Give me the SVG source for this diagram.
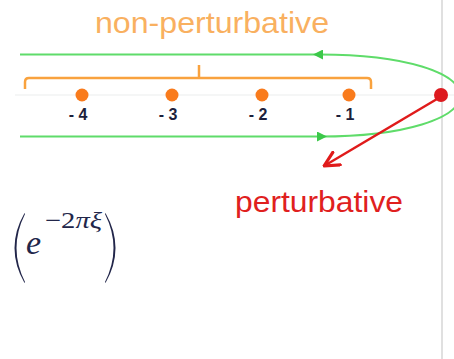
<svg xmlns="http://www.w3.org/2000/svg" width="454" height="359" viewBox="0 0 454 359">
<style>
.lbl{font-family:"Liberation Sans",Arial,sans-serif;font-weight:bold;font-size:16px;fill:#1c1f3c;text-anchor:end}
.od{fill:#f97b1c}
.g{fill:none;stroke:#5fdc6a;stroke-width:2}
.math{font-family:"Liberation Serif","Times New Roman",serif;fill:#22264a}
</style>
<defs>
<marker id="ga" viewBox="0 0 10 10" refX="5" refY="5" markerWidth="5" markerHeight="5" orient="auto" markerUnits="strokeWidth">
<path d="M0,0 L10,5 L0,10 z" fill="#3cc84a"/>
</marker>
<marker id="ra" viewBox="0 0 12 12" refX="11" refY="6" markerWidth="7" markerHeight="7" orient="auto" markerUnits="strokeWidth">
<path d="M1,1 L11,6 L1,11" fill="none" stroke="#e01b1b" stroke-width="2.2" stroke-linecap="round" stroke-linejoin="round"/>
</marker>
</defs>
<rect width="454" height="359" fill="#ffffff"/>
<line x1="442" y1="0" x2="442" y2="359" stroke="#d6d6d6" stroke-width="1.5"/>
<line x1="15" y1="95" x2="454" y2="95" stroke="#eceeee" stroke-width="1.2"/>
<g id="connectors">
<path class="g" d="M320,54.5 L20,54.5"/>
<path class="g" d="M460,95.5 C460,73 405,54.5 320,54.5"/>
<path class="g" d="M323,54.5 L318,54.5" marker-end="url(#ga)"/>
<path class="g" d="M20,136.5 L320,136.5 C405,136.5 460,118 460,95.5"/>
<path class="g" d="M317,136.5 L322,136.5" marker-end="url(#ga)"/>
<path d="M437,99 L324,166" fill="none" stroke="#e01b1b" stroke-width="2.5" marker-end="url(#ra)"/>
</g>
<g id="bracket">
<path d="M25,89 L25,82 Q25,78 29,78 L367,78 Q371,78 371,82 L371,89 M199,78 L199,65" fill="none" stroke="#f9a23e" stroke-width="2.5"/>
</g>
<g id="non-perturbative-label">
<text x="95" y="33" font-family="Liberation Sans,Arial,sans-serif" font-size="30" fill="#f9b060" textLength="234" lengthAdjust="spacingAndGlyphs">non-perturbative</text>
</g>
<g id="n4"><circle class="od" cx="82" cy="95" r="6.5"/><text class="lbl" x="87.5" y="120">- 4</text></g>
<g id="n3"><circle class="od" cx="172" cy="95" r="6.5"/><text class="lbl" x="177.5" y="120">- 3</text></g>
<g id="n2"><circle class="od" cx="262" cy="95" r="6.5"/><text class="lbl" x="267.5" y="120">- 2</text></g>
<g id="n1"><circle class="od" cx="349" cy="95" r="6.5"/><text class="lbl" x="354.5" y="120">- 1</text></g>
<g id="p0"><circle cx="441" cy="95" r="7" fill="#dd1a1f"/></g>
<g id="perturbative-label">
<text x="235" y="212" font-family="Liberation Sans,Arial,sans-serif" font-size="29" fill="#e0201e" textLength="168" lengthAdjust="spacingAndGlyphs">perturbative</text>
</g>
<g id="formula">
<path d="M25,214 Q8,248 25,282 L24.5,283 Q4.5,248 24.5,213 Z" fill="#22264a"/>
<path d="M105,214 Q122,248 105,282 L105.5,283 Q125.5,248 105.5,213 Z" fill="#22264a"/>
<text class="math" x="26" y="254" font-size="34" font-style="italic">e</text>
<text class="math" x="45" y="228" font-size="23" textLength="57" lengthAdjust="spacingAndGlyphs">−2<tspan font-style="italic">πξ</tspan></text>
</g>
</svg>
